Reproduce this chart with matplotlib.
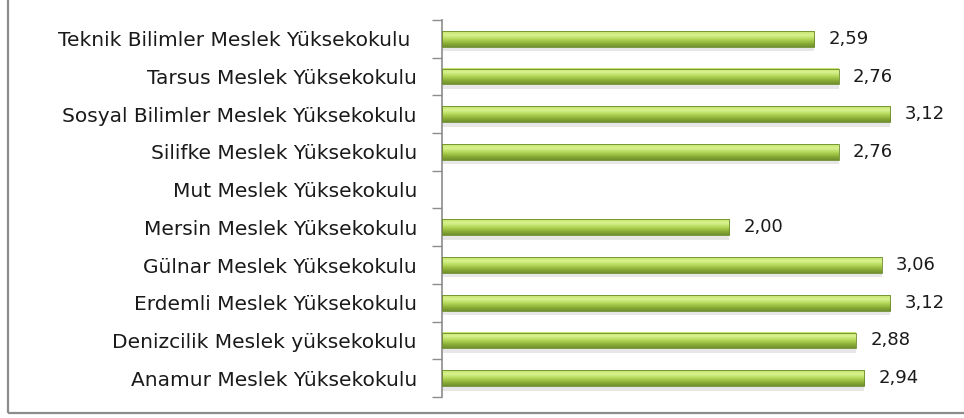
import numpy as np
import matplotlib.pyplot as plt
from matplotlib.patches import Rectangle
from matplotlib.colors import LinearSegmentedColormap

plt.rcParams['font.family'] = ['DejaVu Sans']

# categories from bottom to top
schools = ["Anamur Meslek Yüksekokulu",
           "Denizcilik Meslek yüksekokulu",
           "Erdemli Meslek Yüksekokulu",
           "Gülnar Meslek Yüksekokulu",
           "Mersin Meslek Yüksekokulu",
           "Mut Meslek Yüksekokulu",
           "Silifke Meslek Yüksekokulu",
           "Sosyal Bilimler Meslek Yüksekokulu",
           "Tarsus Meslek Yüksekokulu",
           "Teknik Bilimler Meslek Yüksekokulu "]
scores = [2.94, 2.88, 3.12, 3.06, 2.00, np.nan, 2.76, 3.12, 2.76, 2.59]

fig = plt.figure(figsize=(9.64, 4.18), dpi=100)
ax = fig.add_axes([442/964, 1-397/418, 500/964, 377/418])

# outer chart frame (only left and bottom visible in the crop)
fig.patches.append(Rectangle((8/964, 5/418), 1.0, 1.2, transform=fig.transFigure,
                             fill=False, edgecolor='#8c8c8c', linewidth=1.6, zorder=0))

green = LinearSegmentedColormap.from_list(
    "grn", ["#6f8f2c", "#8fb23a", "#b5d85a", "#d9f290", "#c3e36a"])
grad = np.linspace(0, 1, 64).reshape(-1, 1)

y = np.arange(len(schools))
h = 0.42
for yi, v in zip(y, scores):
    if np.isnan(v):
        continue
    # soft shadow under the bar
    ax.add_patch(Rectangle((0, yi - h/2 - 0.12), v, 0.14, facecolor='#d8d8d8',
                           edgecolor='none', alpha=0.6, zorder=1))
    ax.imshow(grad, cmap=green, aspect='auto', extent=(0, v, yi - h/2, yi + h/2),
              origin='lower', zorder=2, interpolation='bilinear')
    ax.add_patch(Rectangle((0, yi - h/2), v, h, fill=False, edgecolor='#6a8a2a',
                           linewidth=0.6, zorder=3))
    ax.text(v + 0.1, yi, f"{v:.2f}".replace('.', ','), va='center', ha='left',
            fontsize=13, color='#1a1a1a')

ax.set_xlim(0, 3.48)
ax.set_ylim(-0.5, len(schools) - 0.5)
ax.set_yticks(y)
ax.set_yticklabels(schools, fontsize=14.5, color='#1a1a1a')
ax.set_yticks(np.arange(-0.5, len(schools)), minor=True)
ax.tick_params(axis='y', which='major', length=0, pad=18)
ax.tick_params(axis='y', which='minor', length=7, color='#8c8c8c', width=1)
ax.set_xticks([])
for s in ['top', 'right', 'bottom']:
    ax.spines[s].set_visible(False)
ax.spines['left'].set_color('#8c8c8c')
ax.spines['left'].set_linewidth(1.2)

fig.savefig("out.png", dpi=100)
